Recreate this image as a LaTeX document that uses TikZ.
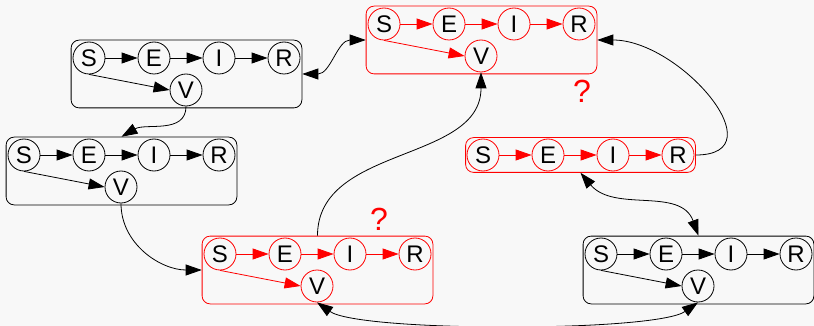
\documentclass[tikz,border=0pt]{standalone}
\usepackage{fontspec}
\setmainfont{Liberation Sans}
\usetikzlibrary{fit,arrows.meta}
\definecolor{bgc}{HTML}{F8F8F8}
\tikzset{
  st/.style={circle,draw=#1,line width=0.8pt,minimum size=32pt,inner sep=0pt,
    font=\fontsize{24}{28}\selectfont},
  grp/.style={rounded corners=8pt,draw=#1,line width=0.8pt,inner sep=1.5pt},
  tr/.style={draw=#1,line width=0.8pt,-{Triangle[length=16pt,width=11pt]}},
  link/.style={draw=black,line width=0.8pt,-{Triangle[length=16pt,width=11pt]}},
  dlink/.style={draw=black,line width=0.8pt,{Triangle[length=16pt,width=11pt]}-{Triangle[length=16pt,width=11pt]}},
  qm/.style={text=red,font=\fontsize{32}{36}\selectfont,inner sep=0pt}
}
\newcommand\seirgrp[4]{%
  \node[st=#4] (#1S) at (#2,#3) {S};
  \node[st=#4] (#1E) at (#2+65,#3) {E};
  \node[st=#4] (#1I) at (#2+130,#3) {I};
  \node[st=#4] (#1R) at (#2+195,#3) {R};
  \node[st=#4] (#1V) at (#2+97,#3+32) {V};
  \draw[tr=#4] (#1S) -- (#1E);
  \draw[tr=#4] (#1E) -- (#1I);
  \draw[tr=#4] (#1I) -- (#1R);
  \draw[tr=#4] (#1S.south) -- (#1V.west);
  \node[grp=#4,fit=(#1S)(#1R)(#1V)] (#1box) {};
}
\begin{document}
\begin{tikzpicture}[x=1pt,y=-1pt]
\fill[bgc] (0,0) rectangle (814,326);
\useasboundingbox (0,0) rectangle (814,326);
\seirgrp{a}{89}{58}{black}
\seirgrp{b}{384}{24}{red}
\seirgrp{c}{24}{155}{black}
\seirgrp{d}{220}{254}{red}
\seirgrp{f}{601}{254}{black}
% single-row red group
\node[st=red] (eS) at (483,155) {S};
\node[st=red] (eE) at (548,155) {E};
\node[st=red] (eI) at (613,155) {I};
\node[st=red] (eR) at (678,155) {R};
\draw[tr=red] (eS) -- (eE);
\draw[tr=red] (eE) -- (eI);
\draw[tr=red] (eI) -- (eR);
\node[grp=red,fit=(eS)(eR),inner sep=1pt] (ebox) {};
% question marks
\node[qm] (q1) at (582,91) {?};
\node[qm] (q2) at (379,219) {?};
% connectors
\draw[dlink] (abox.east) to[out=0,in=180] (bbox.west);
\draw[link] (aV.south) to[out=-90,in=30] (cbox.north);
\draw[link] (cV.south) to[out=-90,in=180] (dbox.west);
\draw[link] (dbox.north) to[out=90,in=-90] (bV.south);
\draw[link] (ebox.east) to[out=0,in=0,looseness=1.4] (bbox.east);
\draw[dlink] (ebox.south) to[out=-50,in=110] (fbox.north);
\draw[dlink] (dV.south) to[out=-35,in=-145,looseness=0.35] (fV.south);
\end{tikzpicture}
\end{document}
